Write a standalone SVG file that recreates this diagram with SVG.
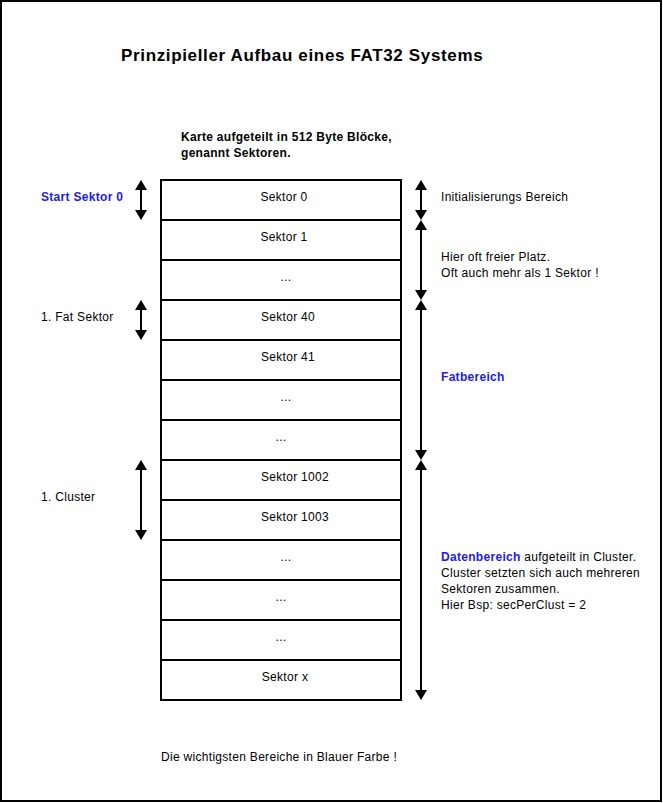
<svg xmlns="http://www.w3.org/2000/svg" width="663" height="803" viewBox="0 0 663 803">
<style>
text{font-family:"Liberation Sans",Arial,sans-serif;font-size:12px;fill:#000;letter-spacing:0.3px}
.b{font-weight:bold}
.title{font-weight:bold;font-size:17px;letter-spacing:0.65px}
.blue{fill:#1c1ce8;font-weight:bold}
.cell{fill:#fff;stroke:#000;stroke-width:2}
.arr{stroke:#000;stroke-width:2;fill:none;marker-start:url(#ah);marker-end:url(#ah)}
</style>
<defs>
<marker id="ah" viewBox="0 0 10 12" refX="5" refY="6" markerWidth="10" markerHeight="12" markerUnits="userSpaceOnUse" orient="auto-start-reverse">
<path d="M0,0 L10,6 L0,12 z" fill="#000"/>
</marker>
</defs>
<rect x="0" y="0" width="663" height="803" fill="#fff"/>
<rect x="1" y="1" width="660" height="800" fill="none" stroke="#000" stroke-width="2"/>
<text x="121" y="61" class="title">Prinzipieller Aufbau eines FAT32 Systems</text>
<text x="181" y="141" class="b">Karte aufgeteilt in 512 Byte Blöcke,</text>
<text x="181" y="157" class="b">genannt Sektoren.</text>
<g id="sectors" text-anchor="middle">
<g id="s0"><rect class="cell" x="161" y="180" width="240" height="40"/><text x="284" y="201">Sektor 0</text></g>
<g id="s1"><rect class="cell" x="161" y="220" width="240" height="40"/><text x="284" y="241">Sektor 1</text></g>
<g id="s2"><rect class="cell" x="161" y="260" width="240" height="40"/><text x="286" y="281">...</text></g>
<g id="s40"><rect class="cell" x="161" y="300" width="240" height="40"/><text x="288" y="321">Sektor 40</text></g>
<g id="s41"><rect class="cell" x="161" y="340" width="240" height="40"/><text x="288" y="361">Sektor 41</text></g>
<g id="s42"><rect class="cell" x="161" y="380" width="240" height="40"/><text x="286" y="401">...</text></g>
<g id="s43"><rect class="cell" x="161" y="420" width="240" height="40"/><text x="281" y="441">...</text></g>
<g id="s1002"><rect class="cell" x="161" y="460" width="240" height="40"/><text x="295" y="481">Sektor 1002</text></g>
<g id="s1003"><rect class="cell" x="161" y="500" width="240" height="40"/><text x="295" y="521">Sektor 1003</text></g>
<g id="s1004"><rect class="cell" x="161" y="540" width="240" height="40"/><text x="286" y="561">...</text></g>
<g id="s1005"><rect class="cell" x="161" y="580" width="240" height="40"/><text x="281" y="601">...</text></g>
<g id="s1006"><rect class="cell" x="161" y="620" width="240" height="40"/><text x="281" y="641">...</text></g>
<g id="sx"><rect class="cell" x="161" y="660" width="240" height="40"/><text x="285" y="681">Sektor x</text></g>
</g>
<g id="connectors">
<line class="arr" x1="141" y1="185" x2="141" y2="215"/>
<line class="arr" x1="141" y1="305" x2="141" y2="335"/>
<line class="arr" x1="141" y1="465" x2="141" y2="535"/>
<line class="arr" x1="421" y1="185" x2="421" y2="215"/>
<line class="arr" x1="421" y1="225" x2="421" y2="295"/>
<line class="arr" x1="421" y1="305" x2="421" y2="455"/>
<line class="arr" x1="421" y1="465" x2="421" y2="695"/>
</g>
<g id="left-labels">
<text x="41" y="201" class="blue">Start Sektor 0</text>
<text x="41" y="321">1. Fat Sektor</text>
<text x="41" y="501">1. Cluster</text>
</g>
<g id="right-labels">
<text x="441" y="201">Initialisierungs Bereich</text>
<text x="441" y="261">Hier oft freier Platz.</text>
<text x="441" y="277">Oft auch mehr als 1 Sektor !</text>
<text x="441" y="381" class="blue">Fatbereich</text>
<text x="441" y="561"><tspan class="blue">Datenbereich</tspan> aufgeteilt in Cluster.</text>
<text x="441" y="577">Cluster setzten sich auch mehreren</text>
<text x="441" y="593">Sektoren zusammen.</text>
<text x="441" y="609">Hier Bsp: secPerClust = 2</text>
</g>
<text x="161" y="761">Die wichtigsten Bereiche in Blauer Farbe !</text>
</svg>
